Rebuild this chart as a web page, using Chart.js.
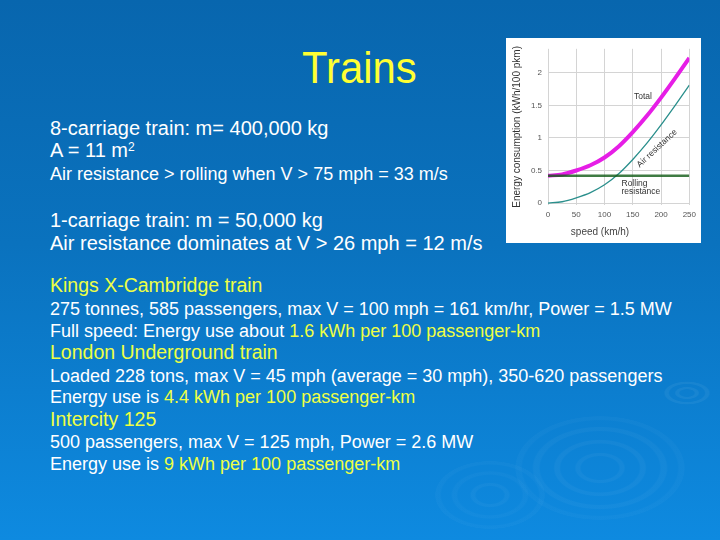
<!DOCTYPE html>
<html>
<head>
<meta charset="utf-8">
<script src="https://cdn.jsdelivr.net/npm/chart.js@4.4.1/dist/chart.umd.min.js"></script>
<style>
  html, body { margin: 0; padding: 0; }
  body {
    width: 720px; height: 540px; position: relative; overflow: hidden;
    font-family: "Liberation Sans", Arial, sans-serif; color: #fff;
    background:
      radial-gradient(85px 52px at 600px 468px, rgba(255,255,255,0) 0 22%, rgba(255,255,255,.035) 24% 28%, rgba(255,255,255,0) 30% 46%, rgba(255,255,255,.035) 48% 53%, rgba(255,255,255,0) 55% 70%, rgba(255,255,255,.03) 72% 78%, rgba(255,255,255,0) 80% 91%, rgba(255,255,255,.025) 93% 99%, rgba(255,255,255,0) 100%),
      radial-gradient(55px 34px at 490px 495px, rgba(255,255,255,0) 0 25%, rgba(255,255,255,.03) 28% 34%, rgba(255,255,255,0) 37% 58%, rgba(255,255,255,.025) 61% 68%, rgba(255,255,255,0) 71% 88%, rgba(255,255,255,.025) 91% 99%, rgba(255,255,255,0) 100%),
      radial-gradient(28px 14px at 687px 393px, rgba(255,255,255,0) 0 25%, rgba(255,255,255,.05) 30% 40%, rgba(255,255,255,0) 45% 62%, rgba(255,255,255,.05) 67% 78%, rgba(255,255,255,0) 83% 100%),
      linear-gradient(to bottom, #0866ae 0%, #0a72be 45%, #0e8ae0 100%);
  }
  .t { position: absolute; left: 50px; white-space: nowrap; line-height: 1; }
  .big { font-size: 20px; }
  .head { font-size: 19.5px; color: #eeff44; }
  .body { font-size: 18px; }
  .hl { color: #eeff44; }
  .sup { font-size: 12px; line-height: 1; position: relative; top: -6px; }
  #title { position: absolute; left: 302px; top: 45px; font-size: 45px; line-height: 1; color: #ffff33;
           transform: scaleX(0.93); transform-origin: left top; }
  #box { position: absolute; left: 506px; top: 38px; width: 195px; height: 205px; background: #fff; }
</style>
</head>
<body>
<div id="title">Trains</div>

<div class="t big" style="top:117.6px">8-carriage train: m= 400,000 kg</div>
<div class="t big" style="top:140.3px">A = 11 m<span class="sup">2</span></div>
<div class="t body" style="top:164.8px">Air resistance &gt; rolling when V &gt; 75 mph = 33 m/s</div>
<div class="t big" style="top:210.1px">1-carriage train: m = 50,000 kg</div>
<div class="t big" style="top:232.8px">Air resistance dominates at V &gt; 26 mph = 12 m/s</div>

<div class="t head" style="top:276px">Kings X-Cambridge train</div>
<div class="t body" style="top:300px">275 tonnes, 585 passengers, max V = 100 mph = 161 km/hr, Power = 1.5 MW</div>
<div class="t body" style="top:321.5px">Full speed: Energy use about <span class="hl">1.6 kWh per 100 passenger-km</span></div>
<div class="t head" style="top:343px">London Underground train</div>
<div class="t body" style="top:366.5px">Loaded 228 tons, max V = 45 mph (average = 30 mph), 350-620 passengers</div>
<div class="t body" style="top:388px">Energy use is <span class="hl">4.4 kWh per 100 passenger-km</span></div>
<div class="t head" style="top:409.5px">Intercity 125</div>
<div class="t body" style="top:433px">500 passengers, max V = 125 mph, Power = 2.6 MW</div>
<div class="t body" style="top:455px">Energy use is <span class="hl">9 kWh per 100 passenger-km</span></div>

<div id="box"><canvas id="myChart"></canvas></div>

<script>
// speed in km/h, energy in kWh per 100 passenger-km
const speeds = [0, 25, 50, 75, 100, 125, 150, 175, 200, 225, 250];
const totalEnergy = [0.42, 0.44, 0.50, 0.58, 0.70, 0.87, 1.09, 1.34, 1.62, 1.92, 2.23];
const airResistance = [0, 0.02, 0.08, 0.16, 0.28, 0.45, 0.67, 0.92, 1.20, 1.50, 1.81];
const rollingResistance = [0.42, 0.42, 0.42, 0.42, 0.42, 0.42, 0.42, 0.42, 0.42, 0.42, 0.42];
const xTicks = [0, 50, 100, 150, 200, 250];
const yTicks = [0, 0.5, 1, 1.5, 2];
const yTickLabels = ['0', '0.5', '1', '1.5', '2'];

const toPoints = vals => speeds.map((s, i) => ({ x: s, y: vals[i] }));

const labelsPlugin = {
    id: 'curveLabels',
    afterDatasetsDraw(chart) {
        const { ctx, scales: { x, y }, chartArea } = chart;
        ctx.save();
        ctx.fillStyle = '#333';
        ctx.font = '8.5px "Liberation Sans", Arial, sans-serif';
        ctx.textBaseline = 'middle';
        ctx.textAlign = 'center';
        ctx.fillText('Total', x.getPixelForValue(168), y.getPixelForValue(1.64));
        ctx.textAlign = 'left';
        ctx.fillText('Rolling', x.getPixelForValue(130), y.getPixelForValue(0.30));
        ctx.fillText('resistance', x.getPixelForValue(130), y.getPixelForValue(0.17));
        ctx.save();
        ctx.translate(x.getPixelForValue(193), y.getPixelForValue(0.84));
        ctx.rotate(-43 * Math.PI / 180);
        ctx.textAlign = 'center';
        ctx.fillText('Air resistance', 0, 0);
        ctx.restore();
        // x axis title, sits left of centre in the original
        ctx.fillStyle = '#444';
        ctx.font = '10px "Liberation Sans", Arial, sans-serif';
        ctx.textAlign = 'center';
        ctx.fillText('speed (km/h)', chartArea.left + 52, chartArea.bottom + 27);
        ctx.restore();
    }
};

const ctx = document.getElementById('myChart').getContext('2d');
const myChart = new Chart(ctx, {
    type: 'line',
    data: {
        datasets: [
            {
                label: 'Rolling resistance',
                data: toPoints(rollingResistance),
                borderColor: 'rgba(15, 90, 20, 0.8)',
                borderWidth: 2.5,
                pointRadius: 0,
                order: 0
            },
            {
                label: 'Total',
                data: toPoints(totalEnergy),
                borderColor: '#e61ee6',
                borderWidth: 4,
                pointRadius: 0,
                cubicInterpolationMode: 'monotone',
                order: 1
            },
            {
                label: 'Air resistance',
                data: toPoints(airResistance),
                borderColor: '#2a8f8c',
                borderWidth: 1.3,
                pointRadius: 0,
                cubicInterpolationMode: 'monotone',
                order: 2
            }
        ]
    },
    options: {
        responsive: true,
        maintainAspectRatio: false,
        animation: false,
        layout: { padding: { top: 10, right: 11, bottom: 0, left: 0 } },
        plugins: {
            legend: { display: false },
            tooltip: { enabled: false }
        },
        scales: {
            x: {
                type: 'linear',
                min: 0,
                max: 250,
                afterBuildTicks: axis => { axis.ticks = xTicks.map(v => ({ value: v })); },
                afterFit: axis => { axis.height = 38; },
                ticks: {
                    color: '#555',
                    font: { size: 8, family: '"Liberation Sans", Arial, sans-serif' },
                    padding: 5,
                    maxRotation: 0
                },
                grid: { color: '#d4d4d4', drawTicks: false },
                border: { display: false }
            },
            y: {
                type: 'linear',
                min: -0.03,
                max: 2.37,
                afterBuildTicks: axis => { axis.ticks = yTicks.map(v => ({ value: v })); },
                afterFit: axis => { axis.width = 42; },
                ticks: {
                    color: '#555',
                    font: { size: 8, family: '"Liberation Sans", Arial, sans-serif' },
                    padding: 6,
                    callback: v => yTickLabels[yTicks.indexOf(v)]
                },
                title: {
                    display: true,
                    text: 'Energy consumption (kWh/100 pkm)',
                    color: '#333',
                    font: { size: 10, family: '"Liberation Sans", Arial, sans-serif' },
                    padding: { top: 5, bottom: 0 }
                },
                grid: { color: '#d4d4d4', drawTicks: false },
                border: { display: false }
            }
        }
    },
    plugins: [labelsPlugin]
});
</script>
</body>
</html>
